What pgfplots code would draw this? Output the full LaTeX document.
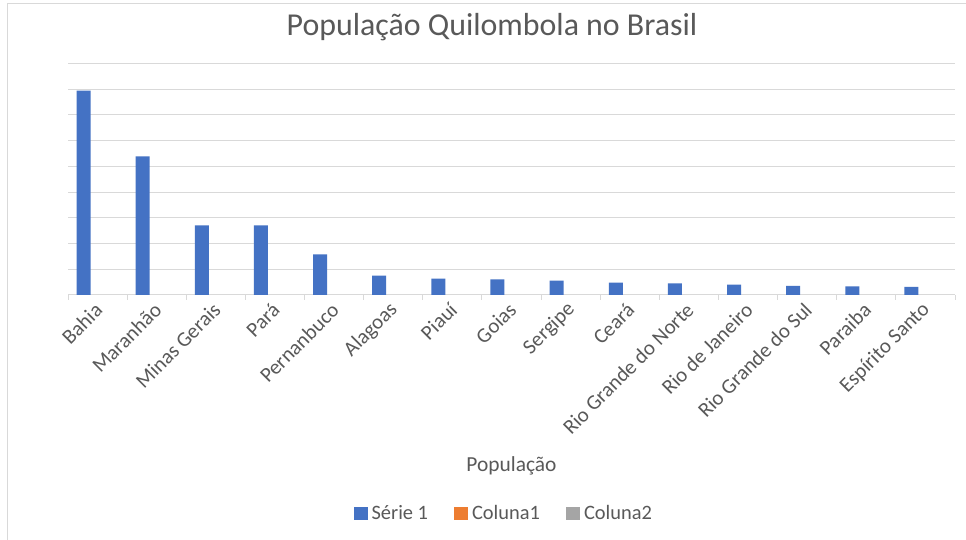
\documentclass[border=0pt]{standalone}
\usepackage{pgfplots}
\pgfplotsset{compat=1.18}
\usepackage{fontspec}
\setmainfont{Carlito}
\definecolor{barblue}{HTML}{4472C4}
\definecolor{txtgray}{HTML}{595959}
\definecolor{gridgray}{HTML}{D9D9D9}
\definecolor{orng}{HTML}{ED7D31}
\definecolor{gry}{HTML}{A5A5A5}
\pgfplotstableread{
x pop
0 397059
1 269074
2 135310
3 135033
4 78827
5 37722
6 31686
7 30387
8 28124
9 23955
10 22384
11 20344
12 17496
13 16584
14 15652
}\popdata
\begin{document}
\begin{tikzpicture}
\useasboundingbox (0,0) rectangle (966bp,540bp);
\fill[white] (0,0) rectangle (966bp,540bp);
\draw[gridgray, line width=1bp] (7.5bp,0) -- (7.5bp,536bp) -- (966bp,536bp);
\node[text=txtgray, font=\fontsize{32}{38}\selectfont] at (492bp,513bp) {População Quilombola no Brasil};
\begin{axis}[
  at={(68bp,245bp)}, anchor=south west,
  scale only axis, width=887bp, height=231.7bp,
  xmin=-0.5, xmax=14.5, ymin=0, ymax=450000,
  axis x line*=bottom, axis y line*=left,
  y axis line style={draw=none},
  x axis line style={draw=gridgray, line width=1bp},
  scaled y ticks=false,
  ytick={0,50000,...,450000}, yticklabel=\empty,
  ytick style={draw=none},
  ymajorgrids, major grid style={draw=gridgray, line width=1bp},
  xtick={0,...,14},
  xticklabels={Bahia,Maranhão,Minas Gerais,Pará,Pernanbuco,Alagoas,Piauí,Goias,Sergipe,Ceará,Rio Grande do Norte,Rio de Janeiro,Rio Grande do Sul,Paraiba,Espírito Santo},
  major x tick style={draw=none},
  minor xtick={-0.5,0.5,...,14.5},
  minor x tick style={draw=gridgray, line width=1bp},
  tick align=outside, minor tick length=5bp,
  xticklabel style={rotate=45, anchor=east, font=\fontsize{21}{25}\selectfont, text=txtgray, yshift=-6bp, xshift=-1bp},
  xlabel={População},
  xlabel style={font=\fontsize{21.5}{25}\selectfont, text=txtgray, at={(axis description cs:0.5,0)}, anchor=center, yshift=-171bp},
  legend columns=-1,
  legend style={draw=none, fill=none, at={(axis description cs:0.4924,0)}, anchor=center, yshift=-218bp, font=\fontsize{20.5}{24}\selectfont, text=txtgray, nodes={inner xsep=4bp}, /tikz/every even column/.append style={column sep=22bp}},
  legend image code/.code={\fill[#1] (0bp,-6.5bp) rectangle (14bp,6.5bp);},
]
\addplot[ybar, bar width=0.237, bar shift=-0.237, fill=barblue, draw=none] table[x=x, y=pop] {\popdata};
\addlegendentry{Série 1}
\addlegendimage{fill=orng, draw=none}
\addlegendentry{Coluna1}
\addlegendimage{fill=gry, draw=none}
\addlegendentry{Coluna2}
\end{axis}
\end{tikzpicture}
\end{document}
